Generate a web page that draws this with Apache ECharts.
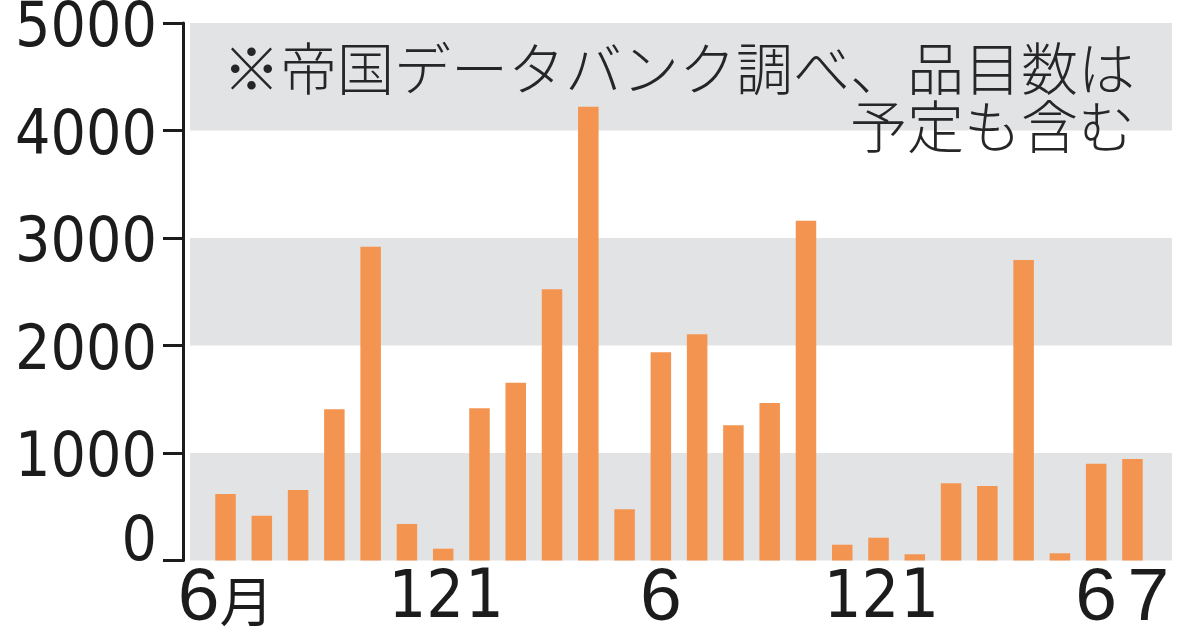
<!DOCTYPE html>
<html>
<head>
<meta charset="utf-8">
<script src="https://cdn.jsdelivr.net/npm/echarts@6/dist/echarts.min.js"></script>
<style>
html,body{margin:0;padding:0;background:#fff;}
#chart{width:1200px;height:630px;}
</style>
</head>
<body>
<div id="chart"></div>
<script>
/*数据*/
var months = ['2022/6','2022/7','2022/8','2022/9','2022/10','2022/11','2022/12',
    '2023/1','2023/2','2023/3','2023/4','2023/5','2023/6','2023/7','2023/8','2023/9',
    '2023/10','2023/11','2023/12','2024/1','2024/2','2024/3','2024/4','2024/5','2024/6','2024/7'];
var itemCounts = [619,417,656,1407,2919,340,110,1416,1654,2523,4221,476,1937,2104,
    1258,1465,3161,147,212,58,718,693,2795,67,900,944];
var tickLabels = ['6月','','','','','','12','1','','','','','6','','','','','','12','1',
    '','','','','6','7'];
var yTicks = [0,1000,2000,3000,4000,5000];
var note = '※帝国データバンク調べ、品目数は\n予定も含む';

var ink = '#1c1c1c';
var narrow = '"DejaVu Sans Condensed","Liberation Sans Narrow",sans-serif';
var wide = '"Liberation Sans",Arial,sans-serif';
var cjk = '"Noto Sans CJK JP",sans-serif';

var chart = echarts.init(document.getElementById('chart'));

/*x轴标签*/
function xLabel(val, idx){
    var t = tickLabels[idx];
    if(!t){ return ''; }
    if(t == '12'){ return '{nl|12}'; }
    if(t == '1'){ return '{n|1}'; }
    if(t == '7'){ return '{wr|7}'; }
    return t.replace(/(\d+)/, '{w|$1}').replace('月', '{k|月}');
}

var option = {
    backgroundColor: '#ffffff',
    animation: false,
    grid: [
        {left: 190, right: 28, top: 23, bottom: 69.5, outerBoundsMode: 'none', containLabel: false},
        {left: 207.4, right: 49.4, top: 23, bottom: 69.5, outerBoundsMode: 'none', containLabel: false}
    ],
    xAxis: [
        {gridIndex: 0, type: 'category', data: months, show: false},
        {
            gridIndex: 1,
            type: 'category',
            data: months,
            axisLine: {show: false},
            axisTick: {show: false},
            axisLabel: {
                interval: 0,
                margin: 3,
                color: ink,
                formatter: xLabel,
                rich: {
                    n: {fontFamily: narrow, fontSize: 68, lineHeight: 72, color: ink, padding: [0, 0, 0, 10]},
                    nl: {fontFamily: narrow, fontSize: 66, lineHeight: 72, color: ink, padding: [0, 34, 0, 0]},
                    w: {fontFamily: wide, fontSize: 75, lineHeight: 72, color: ink},
                    wr: {fontFamily: wide, fontSize: 75, lineHeight: 72, color: ink, padding: [0, 0, 0, 32]},
                    k: {fontFamily: cjk, fontSize: 54, lineHeight: 72, color: ink, padding: [4, 0, 0, 0]}
                }
            }
        }
    ],
    yAxis: [
        {
            gridIndex: 0,
            type: 'value',
            min: yTicks[0],
            max: yTicks[yTicks.length - 1],
            interval: yTicks[1] - yTicks[0],
            offset: 7,
            axisLine: {show: true, lineStyle: {color: ink, width: 3}},
            axisTick: {show: true, length: 20, lineStyle: {color: ink, width: 3}},
            splitLine: {show: false},
            splitArea: {show: true, areaStyle: {color: ['#e2e3e5', '#ffffff']}},
            axisLabel: {
                margin: 26,
                color: ink,
                formatter: function(v){ return v === 0 ? '{z|0}' : '{d|' + v + '}'; },
                rich: {
                    z: {fontFamily: narrow, fontSize: 62, lineHeight: 66, color: ink, padding: [0, 0, 34, 0]},
                    d: {fontFamily: narrow, fontSize: 62, lineHeight: 66, color: ink, padding: [14, 0, 0, 0]}
                }
            }
        },
        {
            gridIndex: 1,
            type: 'value',
            min: yTicks[0],
            max: yTicks[yTicks.length - 1],
            interval: yTicks[1] - yTicks[0],
            show: false,
            splitLine: {show: false}
        }
    ],
    graphic: [
        {
            type: 'text',
            z: 100,
            x: 1135,
            y: 97,
            style: {
                text: note,
                align: 'right',
                verticalAlign: 'middle',
                fontFamily: cjk,
                fontWeight: 300,
                fontSize: 57,
                lineHeight: 58,
                fill: '#262626'
            }
        }
    ],
    series: [
        {
            name: '品目数',
            type: 'bar',
            xAxisIndex: 1,
            yAxisIndex: 1,
            data: itemCounts,
            barWidth: 20.5,
            itemStyle: {color: '#f39451'}
        }
    ]
};
chart.setOption(option);
</script>
</body>
</html>
